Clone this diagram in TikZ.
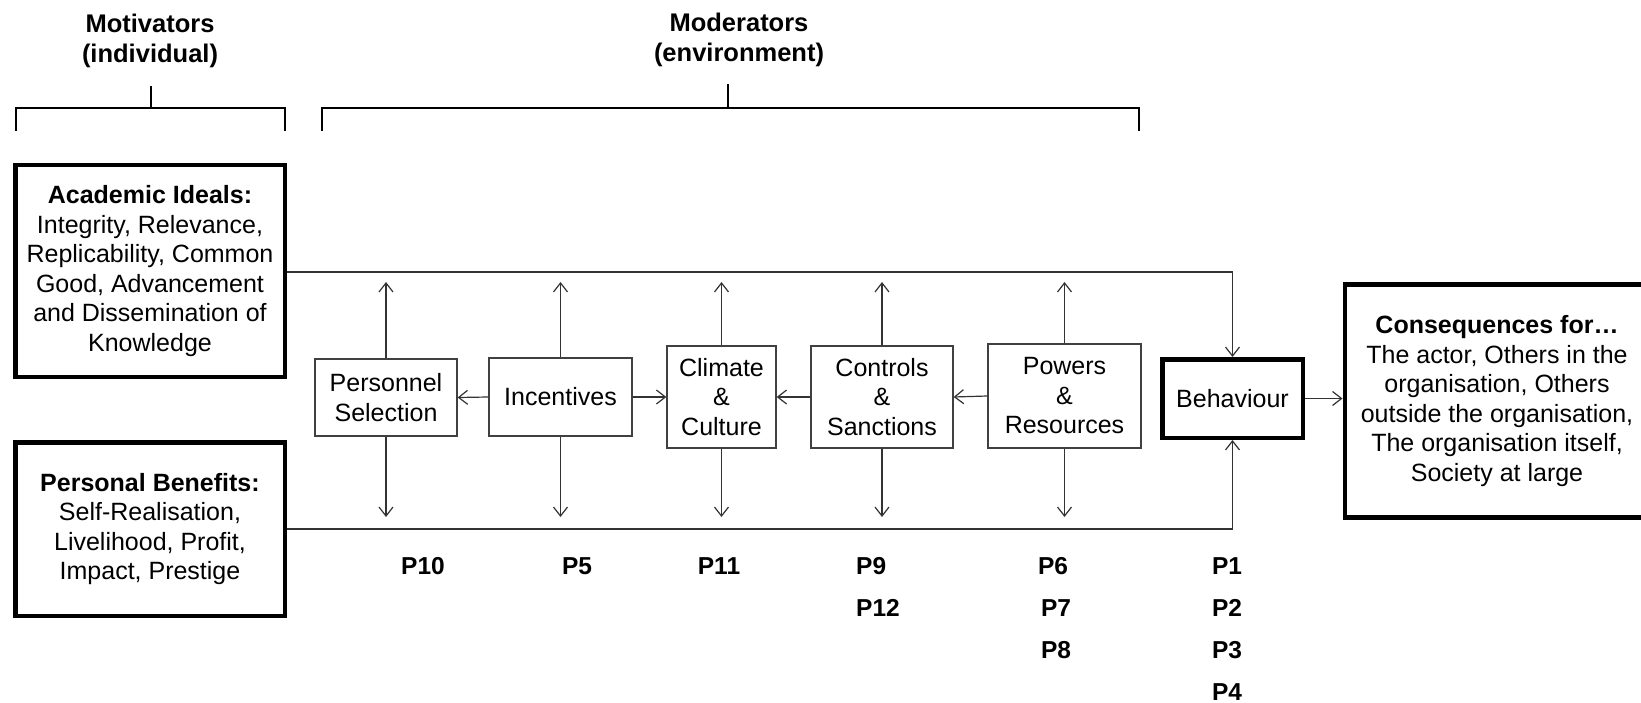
\documentclass[tikz,border=0pt]{standalone}
\usepackage{fontspec}
\setmainfont{Liberation Sans}
\usetikzlibrary{arrows.meta}
\begin{document}
\begin{tikzpicture}[x=1pt,y=-1pt,
  txt/.style={font=\fontsize{25}{29.5}\selectfont, align=center, inner sep=0pt},
  thickbox/.style={txt, draw=black, line width=4.5pt},
  thinbox/.style={txt, draw=black!75, line width=1.3pt},
  conn/.style={draw=black!80, line width=1.2pt},
  arr/.style={conn, -{Straight Barb[length=9pt,width=14pt]}},
  brk/.style={draw=black, line width=2.3pt},
  head/.style={font=\fontsize{25.5}{30}\selectfont\bfseries, align=center, inner sep=0pt},
  plab/.style={font=\fontsize{24.5}{28}\selectfont\bfseries, inner sep=0pt}
]
\useasboundingbox (0,0) rectangle (1641,703);

% headings and brackets
\node[head] (motiv) at (150,41) {Motivators\\(individual)};
\node[head] (moder) at (739,40) {Moderators\\(environment)};
\draw[brk] (16,131) -- (16,108) -- (285,108) -- (285,131);
\draw[brk] (151,108) -- (151,86);
\draw[brk] (322,131) -- (322,108) -- (1139,108) -- (1139,131);
\draw[brk] (728,108) -- (728,84);

% motivator boxes
\node[thickbox, minimum width=269.5pt, minimum height=211.5pt] (ai) at (150,271)
  {\textbf{Academic Ideals:}\\Integrity, Relevance,\\Replicability, Common\\Good, Advancement\\and Dissemination of\\Knowledge};
\node[thickbox, minimum width=269.5pt, minimum height=173.5pt] (pb) at (150,529)
  {\textbf{Personal Benefits:}\\Self-Realisation,\\Livelihood, Profit,\\Impact, Prestige};

% moderator boxes
\node[thinbox, minimum width=142pt, minimum height=77pt] (ps) at (386,397.5) {Personnel\\Selection};
\node[thinbox, minimum width=143pt, minimum height=78pt] (inc) at (560.5,397) {Incentives};
\node[thinbox, minimum width=109pt, minimum height=102pt] (cli) at (721.5,397) {Climate\\\&\\Culture};
\node[thinbox, minimum width=142pt, minimum height=102pt] (con) at (882,397) {Controls\\\&\\Sanctions};
\node[thinbox, minimum width=153pt, minimum height=104pt] (pow) at (1064.5,396) {Powers\\\&\\Resources};

% behaviour and consequences
\node[thickbox, minimum width=140.5pt, minimum height=78.5pt] (beh) at (1232.5,398.5) {Behaviour};
\node[thickbox, minimum width=304.5pt, minimum height=232.5pt] (cons) at (1497,401)
  {\textbf{Consequences for…}\\The actor, Others in the\\organisation, Others\\outside the organisation,\\The organisation itself,\\Society at large};

% free ends of the vertical arrows
\coordinate (upT) at (0,282);
\coordinate (dnT) at (0,517);
\coordinate (topR) at (1232.5,272);
\coordinate (botR) at (1232.5,529);

\foreach \n in {ps,inc,cli,con,pow}{
  \draw[arr] (\n.north) -- (\n.north |- upT);
  \draw[arr] (\n.south) -- (\n.south |- dnT);
}

% horizontal arrows between moderators
\draw[arr] (inc.west) -- (ps.east);
\draw[arr] (inc.east) -- (cli.west);
\draw[arr] (con.west) -- (cli.east);
\draw[arr] (pow.west) -- (con.east);

% motivator lines into behaviour
\draw[arr] (ai.east |- topR) -- (topR) -- (beh.north);
\draw[arr] (pb.east) -- (botR) -- (beh.south);
\draw[arr] (beh.east) -- (cons.west |- beh.east);

% proposition labels
\node[plab] (p10) at (423,566) {P10};
\node[plab] (p5)  at (577,566) {P5};
\node[plab] (p11) at (719,566) {P11};
\node[plab, anchor=west] (p9)  at (856,566) {P9};
\node[plab, anchor=west] (p12) at (856,608) {P12};
\node[plab] (p6)  at (1053,566) {P6};
\node[plab] (p7)  at (1056,608) {P7};
\node[plab] (p8)  at (1056,650) {P8};
\node[plab] (p1)  at (1227,566) {P1};
\node[plab] (p2)  at (1227,608) {P2};
\node[plab] (p3)  at (1227,650) {P3};
\node[plab] (p4)  at (1227,692) {P4};
\end{tikzpicture}
\end{document}
